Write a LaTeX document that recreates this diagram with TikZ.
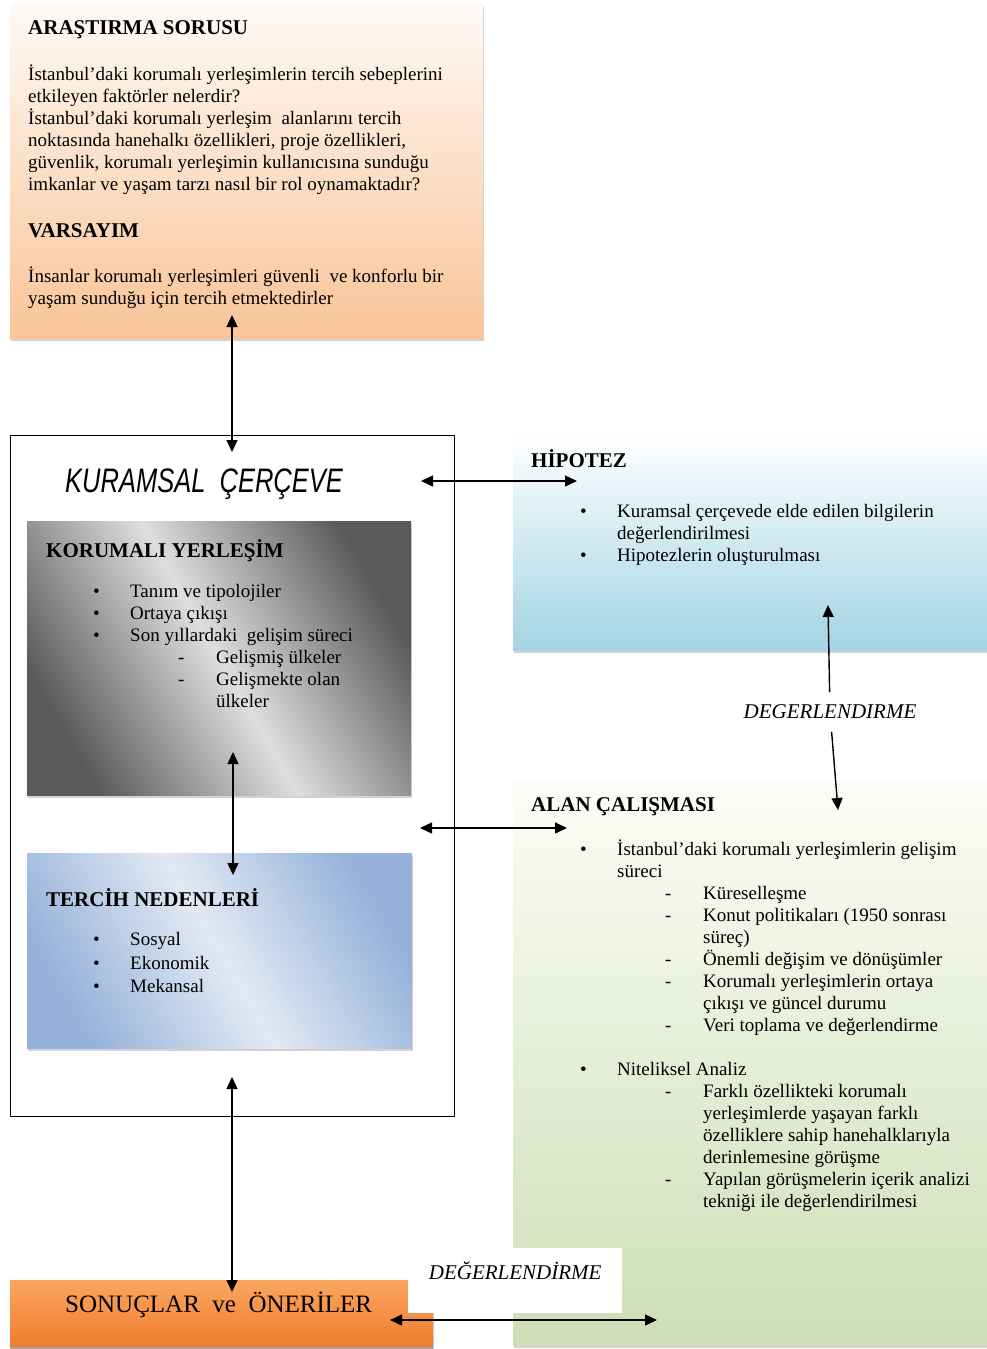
\documentclass[tikz,border=0pt]{standalone}
\usepackage{fontspec}
\setmainfont{Liberation Serif}
\newfontfamily\basliksans{Liberation Sans}
\usepackage{xcolor}
\usepackage{tikz}
\usetikzlibrary{positioning,calc,shadows,arrows.meta}

\definecolor{sorutop}{RGB}{254,250,245}
\definecolor{sorubot}{RGB}{249,196,152}
\definecolor{grikoyu}{RGB}{90,90,90}
\definecolor{griacik}{RGB}{222,222,222}
\definecolor{terkoyu}{RGB}{150,178,218}
\definecolor{teracik}{RGB}{226,233,243}
\definecolor{hipbot}{RGB}{163,212,228}
\definecolor{alantop}{RGB}{253,253,247}
\definecolor{alanbot}{RGB}{206,222,182}
\definecolor{sontop}{RGB}{250,165,95}
\definecolor{sonbot}{RGB}{240,125,45}

\newcommand{\mad}[1]{\makebox[37pt][l]{\textbullet}#1}
\newcommand{\altmad}[1]{\hspace*{85pt}\makebox[38pt][l]{-}#1}
\newcommand{\devam}[1]{\hspace*{123pt}#1}
\newcommand{\devamust}[1]{\hspace*{37pt}#1}

\begin{document}
\begin{tikzpicture}[x=1pt,y=-1pt, line cap=round, line join=round]
	\tikzset{
		kutu/.style={inner sep=0pt, anchor=north west, drop shadow={shadow xshift=1pt, shadow yshift=-3pt, fill=black!35}},
		baslik/.style={inner sep=0pt, anchor=base west, font=\fontsize{21}{24}\selectfont\bfseries},
		metin/.style={inner sep=0pt, anchor=north west, yshift=15.4pt, align=left, execute at begin node=\strut, font=\fontsize{19}{22}\selectfont},
		ok/.style={{Triangle[length=12pt,width=11pt]}-{Triangle[length=12pt,width=11pt]}, line width=1.4pt},
		tek/.style={-{Triangle[length=12pt,width=11pt]}, line width=1.4pt},
		degyazi/.style={font=\fontsize{21}{24}\selectfont\itshape}
	}
	\useasboundingbox (0,0) rectangle (986,1349);
	
	% ===== araştırma sorusu =====
	\node[kutu, top color=sorutop, bottom color=sorubot, minimum width=473pt, minimum height=335pt] (soru) at (10,3) {};
	\node[baslik] (soruB) at (28,34) {ARAŞTIRMA SORUSU};
	\node[metin] (soruM) at (28,80) {İstanbul’daki korumalı yerleşimlerin tercih sebeplerini\\ etkileyen faktörler nelerdir?\\ İstanbul’daki korumalı yerleşim\ \ alanlarını tercih\\ noktasında hanehalkı özellikleri, proje özellikleri,\\ güvenlik, korumalı yerleşimin kullanıcısına sunduğu\\ imkanlar ve yaşam tarzı nasıl bir rol oynamaktadır?};
	\node[baslik] (varB) at (28,237) {VARSAYIM};
	\node[metin] (varM) at (28,282) {İnsanlar korumalı yerleşimleri güvenli\ \ ve konforlu bir\\ yaşam sunduğu için tercih etmektedirler};
	
	% ===== kuramsal çerçeve =====
	\node[draw, line width=1.3pt, inner sep=0pt, anchor=north west, minimum width=444pt, minimum height=681pt, fill=white] (kuram) at (9.5,435) {};
	\node[inner sep=0pt, anchor=base west] (kuramB) at (65,492) {\basliksans\itshape\fontsize{34}{36}\selectfont\scalebox{0.75}[1]{KURAMSAL~~ÇERÇEVE}};
	
	\node[kutu, left color=grikoyu, right color=grikoyu, middle color=griacik, shading angle=120, minimum width=384pt, minimum height=274pt] (koru) at (27,521) {};
	\node[baslik] (koruB) at (46,557) {KORUMALI YERLEŞİM};
	\node[metin] (koruM) at (93,600) {\mad{Tanım ve tipolojiler}\\ \mad{Ortaya çıkışı}\\ \mad{Son yıllardaki\ \ gelişim süreci}\\ \altmad{Gelişmiş ülkeler}\\ \altmad{Gelişmekte olan}\\ \devam{ülkeler}};
	
	\node[kutu, left color=terkoyu, right color=terkoyu, middle color=teracik, shading angle=120, minimum width=385pt, minimum height=195pt] (tercih) at (27,853) {};
	\node[baslik] (terB) at (46,906) {TERCİH NEDENLERİ};
	\node[metin, yshift=1.05pt, font=\fontsize{19}{23.5}\selectfont] (terM) at (93,949) {\mad{Sosyal}\\ \mad{Ekonomik}\\ \mad{Mekansal}};
	
	% ===== hipotez =====
	\node[kutu, top color=white, bottom color=hipbot, minimum width=480pt, minimum height=216pt] (hip) at (513,434) {};
	\node[baslik] (hipB) at (531,467) {HİPOTEZ};
	\node[metin] (hipM) at (580,520) {\mad{Kuramsal çerçevede elde edilen bilgilerin}\\ \devamust{değerlendirilmesi}\\ \mad{Hipotezlerin oluşturulması}};
	
	% ===== alan çalışması =====
	\node[kutu, top color=alantop, bottom color=alanbot, minimum width=480pt, minimum height=565pt] (alan) at (513,780) {};
	\node[baslik] (alanB) at (531,811) {ALAN ÇALIŞMASI};
	\node[metin] (alanM) at (580,855) {\mad{İstanbul’daki korumalı yerleşimlerin gelişim}\\ \devamust{süreci}\\ \altmad{Küreselleşme}\\ \altmad{Konut politikaları (1950 sonrası}\\ \devam{süreç)}\\ \altmad{Önemli değişim ve dönüşümler}\\ \altmad{Korumalı yerleşimlerin ortaya}\\ \devam{çıkışı ve güncel durumu}\\ \altmad{Veri toplama ve değerlendirme}\\[22pt] \mad{Niteliksel Analiz}\\ \altmad{Farklı özellikteki korumalı}\\ \devam{yerleşimlerde yaşayan farklı}\\ \devam{özelliklere sahip hanehalklarıyla}\\ \devam{derinlemesine görüşme}\\ \altmad{Yapılan görüşmelerin içerik analizi}\\ \devam{tekniği ile değerlendirilmesi}};
	
	% ===== sonuçlar =====
	\node[kutu, top color=sontop, bottom color=sonbot, minimum width=423pt, minimum height=66pt, drop shadow={shadow xshift=0pt, shadow yshift=-3pt, fill=black!55}] (sonuc) at (10,1280) {};
	\node[inner sep=0pt, anchor=base west, font=\fontsize{25}{28}\selectfont] (sonucT) at (65,1312) {SONUÇLAR\ \ ve\ \ ÖNERİLER};
	
	% ===== değerlendirme =====
	\node[degyazi, fill=white, inner sep=0pt, anchor=north west, minimum width=214pt, text height=31pt, text depth=34pt] (deger2) at (408,1248) {DEĞERLENDİRME};
	\node[degyazi, inner sep=13pt] (deger1) at (830,712) {DEGERLENDIRME};
	
	% ===== oklar =====
	\coordinate (u1) at (232,315);  \coordinate (u2) at (232,452);
	\coordinate (u3) at (233,752);  \coordinate (u4) at (233,875);
	\coordinate (u5) at (232,1077); \coordinate (u6) at (232,1292);
	\coordinate (y1) at (421,481);  \coordinate (y2) at (577,481);
	\coordinate (y3) at (420,828);  \coordinate (y4) at (567,828);
	\coordinate (y5) at (390,1320); \coordinate (y6) at (657,1320);
	\coordinate (d1) at (828,605);  \coordinate (d2) at (838,810);
	
	\draw[ok] (u1) -- (u2);
	\draw[ok] (u3) -- (u4);
	\draw[ok] (u5) -- (u6);
	\draw[ok] (y1) -- (y2);
	\draw[ok] (y3) -- (y4);
	\draw[ok] (y5) -- (y6);
	\draw[tek] (deger1) -- (d1);
	\draw[tek] (deger1) -- (d2);
\end{tikzpicture}
\end{document}
